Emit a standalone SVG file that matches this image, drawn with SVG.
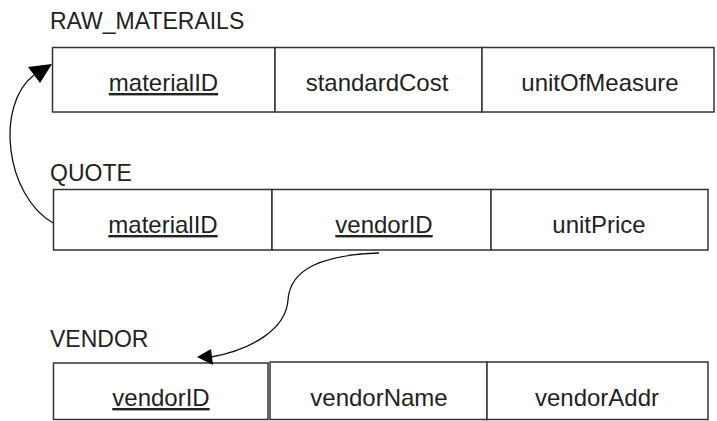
<svg xmlns="http://www.w3.org/2000/svg" width="717" height="421" viewBox="0 0 717 421">
  <style>
    .cell { fill: #ffffff; stroke: #333333; stroke-width: 1.5; }
    .title { font-family: "Liberation Sans", Arial, sans-serif; font-size: 23px; fill: #222222; }
    .field { font-family: "Liberation Sans", Arial, sans-serif; font-size: 24px; fill: #222222; text-anchor: middle; }
    .key { text-decoration: underline; }
    .link { fill: none; stroke: #111111; stroke-width: 1.3; }
    .head { fill: #000000; stroke: none; }
  </style>

  <rect width="717" height="421" fill="#ffffff"/>

  <!-- RAW_MATERAILS relation -->
  <g id="raw_materails">
    <text class="title" x="50" y="29">RAW_MATERAILS</text>
    <rect class="cell" x="52.5" y="47.5" width="222.5" height="64.5"/>
    <rect class="cell" x="275" y="47.5" width="207" height="64.5"/>
    <rect class="cell" x="482" y="47.5" width="232" height="64.5"/>
    <text class="field key" x="163.5" y="91">materialID</text>
    <text class="field" x="377" y="91">standardCost</text>
    <text class="field" x="600" y="91">unitOfMeasure</text>
  </g>

  <!-- QUOTE relation -->
  <g id="quote">
    <text class="title" x="50" y="181">QUOTE</text>
    <rect class="cell" x="53.5" y="189.5" width="218.5" height="60.5"/>
    <rect class="cell" x="272" y="189.5" width="219" height="60.5"/>
    <rect class="cell" x="491" y="189.5" width="217" height="60.5"/>
    <text class="field key" x="163" y="233">materialID</text>
    <text class="field key" x="384" y="233">vendorID</text>
    <text class="field" x="599" y="233">unitPrice</text>
  </g>

  <!-- VENDOR relation -->
  <g id="vendor">
    <text class="title" x="50" y="347">VENDOR</text>
    <rect class="cell" x="53.5" y="363" width="214.5" height="56.5"/>
    <rect class="cell" x="270" y="362" width="217" height="57.5"/>
    <rect class="cell" x="487" y="362" width="221" height="57.5"/>
    <text class="field key" x="161" y="406">vendorID</text>
    <text class="field" x="379" y="406">vendorName</text>
    <text class="field" x="597" y="406">vendorAddr</text>
  </g>

  <!-- foreign key references -->
  <g id="connectors">
    <path class="link" d="M53,223 C5,195 -5,105 34,75"/>
    <polygon class="head" points="52,64 28,67 40,83"/>
    <path class="link" d="M379,253 C320,255 290,270 288,300 C286,330 250,350 211,357"/>
    <polygon class="head" points="197,357 211,349 213,365"/>
  </g>
</svg>
